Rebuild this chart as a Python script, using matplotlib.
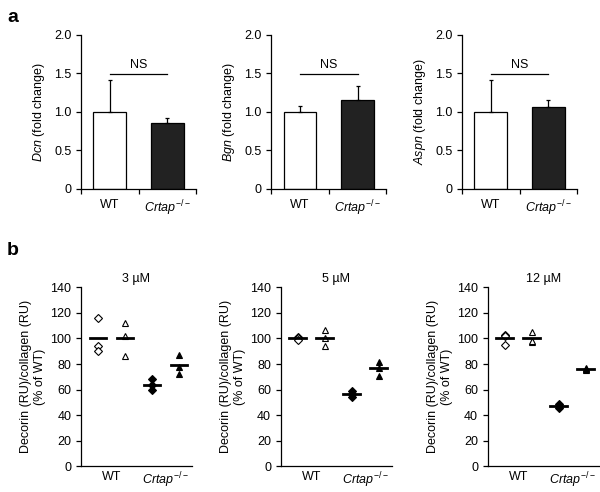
import matplotlib
matplotlib.use("Agg")
import matplotlib.pyplot as plt
import numpy as np

plt.rcParams['font.family'] = ['Liberation Sans', 'DejaVu Sans']
plt.rcParams['font.size'] = 9
plt.rcParams['mathtext.fontset'] = 'custom'
plt.rcParams['mathtext.rm'] = 'Liberation Sans'
plt.rcParams['mathtext.it'] = 'Liberation Sans:italic'
plt.rcParams['axes.linewidth'] = 0.9

# panel a: fold change (mean, upper error)
genes = ['Dcn', 'Bgn', 'Aspn']
groups = ['WT', r'$Crtap^{-/-}$']
wt_mean = [1.00, 1.00, 1.00]
wt_err = [0.42, 0.08, 0.42]
ko_mean = [0.85, 1.15, 1.07]
ko_err = [0.07, 0.19, 0.08]
ns_level = 1.49

# panel b: decorin/collagen (% of WT), three replicates per group
doses = ['3 µM', '5 µM', '12 µM']
wt_diamond = [[116, 94, 90], [101, 100, 99], [103, 95, 102]]
wt_triangle = [[112, 102, 86], [107, 100, 94], [105, 97, 98]]
ko_diamond = [[68, 64, 60], [59, 57, 54], [49, 47, 46]]
ko_triangle = [[87, 78, 72], [82, 77, 71], [77, 76, 75]]

fig = plt.figure(figsize=(6.0, 4.92), dpi=100)

a_lefts = [0.135, 0.452, 0.770]
for i, g in enumerate(genes):
    ax = fig.add_axes([a_lefts[i], 0.616, 0.192, 0.313])
    ax.bar([0, 1], [wt_mean[i], ko_mean[i]], width=0.57,
           color=['white', '#222222'], edgecolor='black', linewidth=0.9)
    ax.errorbar([0, 1], [wt_mean[i], ko_mean[i]],
                yerr=[[0, 0], [wt_err[i], ko_err[i]]],
                fmt='none', ecolor='black', elinewidth=0.9, capsize=1.5, capthick=0.9)
    ax.plot([0, 1], [ns_level, ns_level], color='black', lw=0.9)
    ax.text(0.5, ns_level + 0.04, 'NS', ha='center', va='bottom')
    ax.set_xlim(-0.5, 1.5)
    ax.set_ylim(0, 2.0)
    ax.set_yticks([0, 0.5, 1.0, 1.5, 2.0])
    ax.set_yticklabels(['0', '0.5', '1.0', '1.5', '2.0'])
    ax.set_xticks([0, 1])
    ax.set_xticklabels(groups)
    ax.set_xticks([-0.5, 0.5, 1.5], minor=True)
    ax.tick_params(axis='x', which='major', length=0, pad=7)
    ax.tick_params(axis='x', which='minor', length=3.5, width=0.9)
    ax.tick_params(axis='y', length=3.5, width=0.9)
    ax.set_ylabel('$' + g + '$ (fold change)', labelpad=5)
    for s in ['top', 'right']:
        ax.spines[s].set_visible(False)

b_lefts = [0.135, 0.468, 0.813]
pos = [1, 2, 3, 4]
for i, d in enumerate(doses):
    ax = fig.add_axes([b_lefts[i], 0.052, 0.185, 0.364])
    sets = [(wt_diamond[i], 'D', 'white', 3.8),
            (wt_triangle[i], '^', 'white', 4.8),
            (ko_diamond[i], 'D', 'black', 3.8),
            (ko_triangle[i], '^', 'black', 4.8)]
    for x, (vals, m, fc, ms) in zip(pos, sets):
        ax.plot([x] * len(vals), vals, linestyle='none', marker=m, ms=ms,
                mfc=fc, mec='black', mew=0.8)
        mu = np.mean(vals)
        ax.plot([x - 0.31, x + 0.31], [mu, mu], color='black', lw=2)
    ax.set_xlim(0.37, 4.48)
    ax.set_ylim(0, 140)
    ax.set_yticks(range(0, 141, 20))
    ax.set_xticks([1.5, 3.5])
    ax.set_xticklabels(groups)
    ax.tick_params(axis='x', length=0, pad=3)
    ax.tick_params(axis='y', length=3.5, width=0.9)
    ax.set_title(d, fontsize=9, pad=4)
    ax.set_ylabel('Decorin (RU)/collagen (RU)\n(% of WT)', labelpad=3)
    for s in ['top', 'right']:
        ax.spines[s].set_visible(False)

fig.text(0.012, 0.965, 'a', fontsize=14, fontweight='bold', va='center')
fig.text(0.012, 0.49, 'b', fontsize=14, fontweight='bold', va='center')

fig.savefig('out.png', dpi=100)
